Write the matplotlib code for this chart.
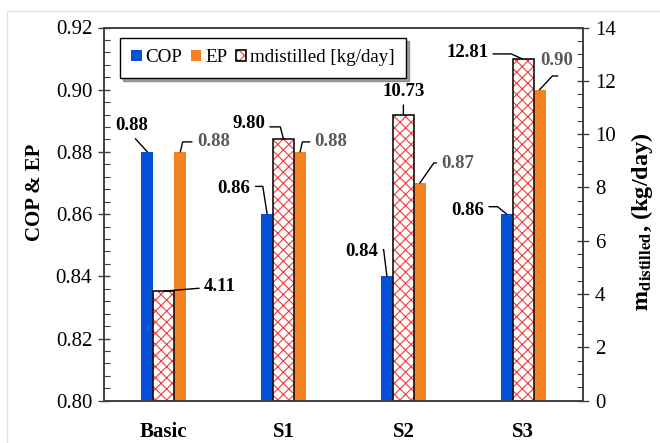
import numpy as np
import matplotlib
matplotlib.use('Agg')
import matplotlib.pyplot as plt
from matplotlib.patches import Patch, Rectangle
from matplotlib.ticker import MultipleLocator

plt.rcParams['font.family'] = ['Liberation Serif', 'DejaVu Serif']
plt.rcParams['mathtext.fontset'] = 'stix'
plt.rcParams['hatch.linewidth'] = 0.8

cases = ['Basic', 'S1', 'S2', 'S3']
cop = [0.88, 0.86, 0.84, 0.86]
ep = [0.88, 0.88, 0.87, 0.90]
m_dist = [4.11, 9.80, 10.73, 12.81]

blue = '#0451D8'
orange = '#F58220'
grey_txt = '#595959'

# label placement: text offset (px), leader attach point on text, leader angle at bar
cop_tags = [((-16, 26), (0.5, 0.0), None),
            ((-33, 26), (1.0, 0.6), 99),
            ((-25, 25), (1.0, 0.6), 97),
            ((-39, 4), (1.0, 0.7), 141)]
m_tags = [((56, 5), (0.0, 0.4), None),
          ((-35, 16), (1.0, 0.3), 105),
          ((0, 23), (0.5, 0.0), None),
          ((-56, 7), (1.0, 0.4), 156)]
ep_tags = [((33, 10), (0.0, 0.5), 77),
           ((31, 10), (0.0, 0.5), 77),
           ((38, 20), (0.0, 0.5), 55),
           ((17, 29), (0.6, -0.4), 47)]

fig = plt.figure(figsize=(6.6, 4.43), dpi=100)
fig.patches.append(Rectangle((7 / 660, -0.1), 1.1, 1.1 - 11 / 443, transform=fig.transFigure,
                             fill=False, edgecolor='#e2e2e2', lw=1))
ax = fig.add_axes([104 / 660, 42.3 / 443, 479 / 660, 373.2 / 443])
ax2 = ax.twinx()

x = np.arange(len(cases))
w_side = 0.1
w_mid = 0.175
off = w_mid / 2 + w_side / 2

b1 = ax.bar(x - off, cop, w_side, color=blue, label='COP')
b2 = ax.bar(x + off, ep, w_side, color=orange, label='EP')
ax2.bar(x, m_dist, w_mid, facecolor='white', edgecolor='#F03C3C', hatch='xxx', lw=0)
ax2.bar(x, m_dist, w_mid, fill=False, edgecolor='#111111', lw=1.2)

ax.set_xlim(-0.5, 3.5)
ax.set_ylim(0.80, 0.92)
ax2.set_ylim(0, 14)
ax.set_xticks(x)
ax.set_xticklabels(cases, fontsize=15, fontweight='bold')
ax.tick_params(axis='x', length=0, pad=15)
ax.yaxis.set_minor_locator(MultipleLocator(0.004))
yt = np.arange(0.80, 0.921, 0.02)
ax.set_yticks(yt)
ax.set_yticklabels([f'{v:.2f}' for v in yt])
ax2.yaxis.set_major_locator(MultipleLocator(2))
ax2.yaxis.set_minor_locator(MultipleLocator(0.5))

for a in (ax, ax2):
    a.tick_params(axis='y', which='major', direction='inout', length=9, width=1,
                  labelsize=15, color='#404040', pad=4)
    a.tick_params(axis='y', which='minor', direction='in', length=4, width=0.8,
                  color='#404040')
    for s in a.spines.values():
        s.set_color('#404040')
        s.set_linewidth(1.2)

ax.set_ylabel('COP & EP', fontsize=15, fontweight='bold')
ax.yaxis.set_label_coords(-0.123, 0.559)
ax2.set_ylabel(r'$\mathbf{m}_{\mathbf{distilled}}$, (kg/day)', fontsize=17.5,
               fontweight='bold')
ax2.yaxis.set_label_coords(1.096, 0.479)


def tag(axis, xv, yv, txt, spec, color):
    (dx, dy), rel, ang = spec
    cs = 'arc3' if ang is None else f'angle,angleA=0,angleB={ang},rad=0'
    axis.annotate(txt, (xv, yv), xytext=(dx, dy), textcoords='offset pixels',
                  ha='center', va='center', fontsize=13.5, fontweight='bold',
                  color=color, annotation_clip=False,
                  arrowprops=dict(arrowstyle='-', color='black', lw=1,
                                  shrinkA=1.5, shrinkB=0, relpos=rel,
                                  connectionstyle=cs))


for i in range(len(cases)):
    tag(ax, x[i] - off, cop[i], f'{cop[i]:.2f}', cop_tags[i], 'black')
    tag(ax, x[i] + off, ep[i], f'{ep[i]:.2f}', ep_tags[i], grey_txt)
    tag(ax2, x[i], m_dist[i], f'{m_dist[i]:.2f}', m_tags[i], 'black')

hatch_handle = (Patch(facecolor='white', edgecolor='#F03C3C', hatch='xxx', lw=0),
                Patch(fill=False, edgecolor='black', lw=1.2))
leg = ax2.legend([b1, b2, hatch_handle], ['COP', 'EP', 'mdistilled [kg/day]'],
                 loc='upper left', bbox_to_anchor=(0.033, 0.972), ncol=3,
                 fontsize=13.7, frameon=True, fancybox=False, shadow=True,
                 handlelength=0.55, handleheight=0.55, handletextpad=0.2,
                 columnspacing=0.45, borderpad=0.6, borderaxespad=0)
leg.get_frame().set_edgecolor('black')
leg.get_frame().set_linewidth(1)

fig.savefig('out.png', dpi=100)
